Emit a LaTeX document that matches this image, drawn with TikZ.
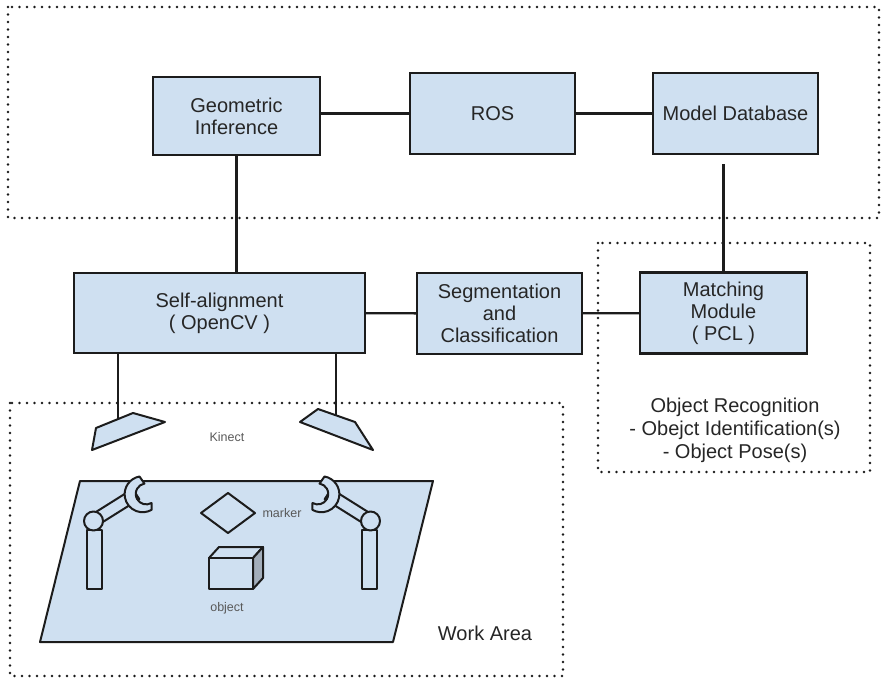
\documentclass[tikz,border=0pt]{standalone}
\usepackage{fontspec}
\setmainfont{Liberation Sans}
\usetikzlibrary{calc}
\definecolor{boxfill}{HTML}{CFE0F1}
\definecolor{edge}{HTML}{1C1C1C}
\definecolor{txt}{HTML}{262626}
\definecolor{side}{HTML}{A3AEBB}

% one robot arm: base column, shoulder joint, link and gripper
\newcommand\robotarm{%
  \draw[part] (87,530) rectangle (102,589);
  \draw[part] (96.3,526.1) -- (89.7,515.9) -- (132.7,488.9) -- (139.3,499.1) -- cycle;
  \draw[part] (93.5,521) circle[radius=9.5pt];
  \draw[part] (139.5,476.5) arc[start angle=100,end angle=300,radius=18pt]
    -- (151.5,503) arc[start angle=300,end angle=100,radius=10.5pt] -- cycle;
}

\begin{document}
\begin{tikzpicture}[x=1pt,y=-1pt,
  block/.style={draw=edge, line width=2.3pt, fill=boxfill, text=txt, align=center,
    inner sep=0pt, font=\fontsize{20}{22}\selectfont},
  link/.style={draw=edge, line width=2.3pt},
  region/.style={draw=black!90, line width=2.7pt, dash pattern=on 0pt off 7.5pt, line cap=round},
  part/.style={draw=edge, line width=2pt, fill=boxfill, line join=round},
  small/.style={text=black!65, font=\fontsize{12.5}{14}\selectfont, inner sep=0pt},
  caption/.style={text=txt, font=\fontsize{20}{23}\selectfont, align=center, inner sep=0pt}]
\useasboundingbox (0,0) rectangle (884,680);

% dotted groupings
\draw[region] (8,7) rectangle (879,218);
\draw[region] (598,243) rectangle (870,472);
\draw[region] (10,403) rectangle (563,676);

% processing blocks
\node[block, minimum width=167pt, minimum height=78pt] (geo) at (236.5,116) {Geometric\\Inference};
\node[block, minimum width=165pt, minimum height=81pt] (ros) at (492.5,113.5) {ROS};
\node[block, minimum width=165pt, minimum height=81pt] (mdb) at (735.5,113.5) {Model Database};
\node[block, minimum width=291pt, minimum height=80pt] (self) at (219.5,313) {Self-alignment\\( OpenCV )};
\node[block, minimum width=165pt, minimum height=81pt] (seg) at (499.5,313.5) {Segmentation\\and\\Classification};
\node[block, minimum width=167pt, minimum height=81pt] (match) at (723.5,313) {Matching\\Module\\( PCL )};

% connections
\draw[link] (ros.west -| geo.east) -- (ros.west);
\draw[link] (ros) -- (mdb);
\draw[link] (geo.south) -- (geo.south |- self.north);
\path (match.north |- mdb.south) ++(0,9) coordinate (mdbgap);
\draw[link] (mdbgap) -- (match.north);
\draw[link] (self) -- (seg);
\draw[link] (seg) -- (match);

% Kinect sensors
\coordinate (kinL) at (118,419);
\coordinate (kinR) at (336,415.5);
\draw[link] (self.south -| kinL) -- (kinL);
\draw[link] (self.south -| kinR) -- (kinR);
\draw[part] (96,428) -- (133,413) -- (165,422) -- (92,450) -- cycle;
\draw[part] (300,422) -- (318,409) -- (355,422) -- (373,450) -- cycle;
\node[small] (kinect) at (227,437) {Kinect};

% work surface
\draw[part] (80,481) -- (433,481) -- (393,642) -- (40,642) -- cycle;
\draw[draw=edge, line width=2pt, line join=round] (201,513) -- (228,493) -- (255,513) -- (228,533) -- cycle;
\node[small] (marker) at (282,513) {marker};

% object box
\draw[part] (209,558) -- (219,547) -- (263,547) -- (253,558) -- cycle;
\draw[part, fill=side] (253,558) -- (263,547) -- (263,578) -- (253,589) -- cycle;
\draw[part] (209,558) rectangle (253,589);
\node[small] (object) at (227,608) {object};

% robot arms
\robotarm
\begin{scope}[shift={(464,0)}, xscale=-1]
  \robotarm
\end{scope}

% captions
\node[caption] (work) at (485,633) {Work Area};
\node[caption] (recog) at (735,430) {Object Recognition\\- Obejct Identification(s)\\- Object Pose(s)};
\end{tikzpicture}
\end{document}
